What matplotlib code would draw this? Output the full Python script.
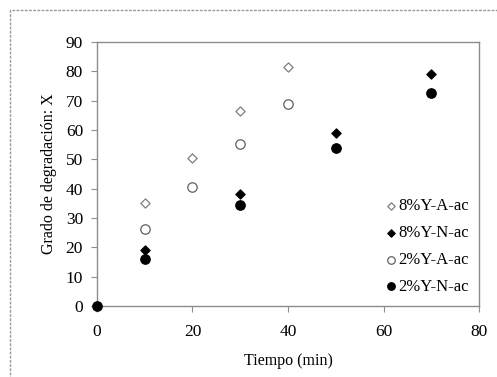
import matplotlib
matplotlib.use("Agg")
import matplotlib.pyplot as plt
from matplotlib.patches import Rectangle

plt.rcParams['font.family'] = ['Liberation Serif', 'DejaVu Serif']

t_8A = [10, 20, 30, 40]
x_8A = [35.0, 50.3, 66.5, 81.3]
t_8N = [10, 30, 50, 70]
x_8N = [19.0, 38.2, 59.0, 79.0]
t_2A = [10, 20, 30, 40]
x_2A = [26.2, 40.6, 55.3, 68.7]
t_2N = [0, 10, 30, 50, 70]
x_2N = [0.0, 16.0, 34.5, 53.8, 72.5]
labels = ['8%Y-A-ac', '8%Y-N-ac', '2%Y-A-ac', '2%Y-N-ac']

fig = plt.figure(figsize=(4.97, 3.77), dpi=100)
ax = fig.add_axes([0.195, 0.188, 0.769, 0.701])

ax.scatter(t_8A, x_8A, marker='D', s=22, facecolors='white', edgecolors='#7f7f7f', linewidths=0.9, label=labels[0], zorder=3)
ax.scatter(t_8N, x_8N, marker='D', s=22, facecolors='black', edgecolors='black', linewidths=0.9, label=labels[1], zorder=3)
ax.scatter(t_2A, x_2A, marker='o', s=46, facecolors='white', edgecolors='#606060', linewidths=0.9, label=labels[2], zorder=3)
ax.scatter(t_2N, x_2N, marker='o', s=46, facecolors='black', edgecolors='black', linewidths=0.9, label=labels[3], zorder=4, clip_on=False)

ax.set_xlim(0, 80)
ax.set_ylim(0, 90)
ax.set_xticks(range(0, 81, 20))
ax.set_yticks(range(0, 91, 10))
for s in ax.spines.values():
    s.set_color('#8c8c8c')
    s.set_linewidth(1.0)
ax.tick_params(direction='out', length=4, width=0.8, color='#8c8c8c', labelsize=12.5, labelcolor='black')
ax.tick_params(axis='x', pad=9)
ax.tick_params(axis='y', pad=6)
ax.set_xlabel('Tiempo (min)', fontsize=11.5, labelpad=9)
ax.set_ylabel('Grado de degradación: X', fontsize=11.5, labelpad=6)

leg = ax.legend(loc='lower right', bbox_to_anchor=(1.0, 0.005), frameon=False, fontsize=12,
                handletextpad=0.1, labelspacing=0.65, borderaxespad=0.2, handlelength=0.7,
                markerscale=0.8)

fig.patches.append(Rectangle((0.02, -0.1), 1.2, 1.073, transform=fig.transFigure,
                             fill=False, edgecolor='#9a9a9a', linewidth=1.0, linestyle=(0, (2, 1))))

fig.savefig('out.png', dpi=100)
